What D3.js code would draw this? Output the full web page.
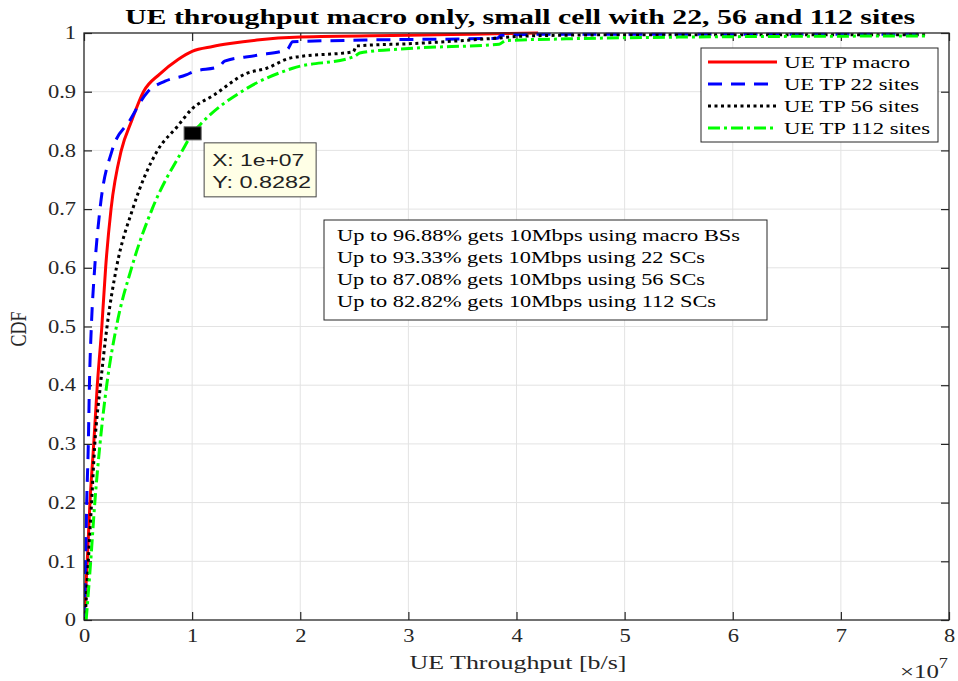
<!DOCTYPE html>
<html>
<head>
<meta charset="utf-8">
<script src="https://cdn.jsdelivr.net/npm/d3@7"></script>
<style>
  html, body { margin: 0; padding: 0; background: #fff; }
  svg { display: block; }
</style>
</head>
<body>
<div id="chart"></div>
<script>
// x values are in units of 1e7 b/s, y values are CDF
const tpMacro = [[0,0],[0.01,0.03],[0.03,0.1],[0.055,0.2],[0.09,0.3],[0.123,0.4],[0.165,0.5],
  [0.2,0.6],[0.25,0.7],[0.345,0.8],[0.44,0.85],[0.55,0.9],[0.7,0.93],[0.87,0.955],[1.0,0.9688],
  [1.19,0.977],[1.35,0.982],[1.6,0.988],[2.0,0.993],[3.0,0.996],[3.6,0.998],[4.2,1.0]];
const tp22 = [[0,0],[0.015,0.1],[0.025,0.2],[0.04,0.3],[0.05,0.4],[0.068,0.5],[0.099,0.6],
  [0.148,0.7],[0.26,0.8],[0.42,0.85],[0.59,0.9],[0.75,0.918],[0.95,0.929],[1.0,0.9333],
  [1.25,0.943],[1.3,0.952],[1.6,0.962],[1.88,0.972],[1.93,0.985],[2.6,0.988],[3.82,0.991],
  [3.86,0.996],[4.3,0.998],[7.8,0.998]];
const tp56 = [[0.01,0],[0.04,0.1],[0.07,0.2],[0.1,0.3],[0.152,0.4],[0.213,0.5],[0.3,0.6],
  [0.45,0.7],[0.68,0.8],[0.86,0.84],[1.0,0.8708],[1.2,0.894],[1.5,0.931],[1.69,0.94],
  [1.9,0.957],[2.0,0.96],[2.49,0.968],[2.52,0.978],[3.04,0.982],[3.8,0.991],[4.1,0.995],
  [5.0,0.997],[7.8,0.997]];
const tp112 = [[0.02,0],[0.062,0.1],[0.1,0.2],[0.148,0.3],[0.21,0.4],[0.3,0.5],[0.44,0.6],
  [0.63,0.7],[0.91,0.8],[1.0,0.8282],[1.07,0.843],[1.5,0.905],[1.93,0.94],[2.5,0.96],
  [2.55,0.966],[3.04,0.974],[3.84,0.981],[3.9,0.987],[4.46,0.99],[5.5,0.993],[7.8,0.995]];

const seriesNames = ['UE TP macro', 'UE TP 22 sites', 'UE TP 56 sites', 'UE TP 112 sites'];
const xTicks = [0, 1, 2, 3, 4, 5, 6, 7, 8];
const yTicks = [0, 0.1, 0.2, 0.3, 0.4, 0.5, 0.6, 0.7, 0.8, 0.9, 1];
const tipPoint = [1.0, 0.8282];
const notes = [
  'Up to 96.88% gets 10Mbps using macro BSs',
  'Up to 93.33% gets 10Mbps using 22 SCs',
  'Up to 87.08% gets 10Mbps using 56 SCs',
  'Up to 82.82% gets 10Mbps using 112 SCs'
];

const W = 958, H = 681;
const pLeft = 84, pRight = 949, pTop = 33, pBottom = 620;
const serif = "'Liberation Serif', 'DejaVu Serif', serif";
const sans = "'Liberation Sans', Arial, sans-serif";
const axisColor = '#262626';
const stretch = 1.25; // the reference figure is a bit wider than tall

const svg = d3.select('#chart').append('svg')
  .attr('width', W).attr('height', H)
  .attr('viewBox', [0, 0, W, H]);

const x = d3.scaleLinear().domain([0, 8]).range([pLeft, pRight]);
const y = d3.scaleLinear().domain([0, 1]).range([pBottom, pTop]);

// widen a text element horizontally
function widen(sel, k) {
  sel.each(function () {
    const len = this.getComputedTextLength();
    d3.select(this).attr('textLength', len * k).attr('lengthAdjust', 'spacingAndGlyphs');
  });
}

// grid
svg.append('g').selectAll('line').data(xTicks.slice(1, -1)).join('line')
  .attr('x1', d => x(d)).attr('x2', d => x(d))
  .attr('y1', pTop).attr('y2', pBottom)
  .attr('stroke', '#e3e3e3').attr('stroke-width', 1);
svg.append('g').selectAll('line').data(yTicks.slice(1, -1)).join('line')
  .attr('x1', pLeft).attr('x2', pRight)
  .attr('y1', d => y(d)).attr('y2', d => y(d))
  .attr('stroke', '#e3e3e3').attr('stroke-width', 1);

// axes (ticks inside, on all four sides)
const tickLen = 8;
const styleAxis = g => {
  g.select('.domain').remove();
  g.selectAll('.tick line').attr('stroke', axisColor).attr('stroke-width', 1.2);
  g.selectAll('.tick text').attr('fill', axisColor)
    .style('font-family', serif).style('font-size', '18px')
    .call(widen, stretch);
};
svg.append('g').attr('transform', `translate(0,${pBottom})`)
  .call(d3.axisBottom(x).tickValues(xTicks).tickFormat(d3.format('d'))
    .tickSizeInner(-tickLen).tickSizeOuter(0).tickPadding(9))
  .call(styleAxis);
svg.append('g').attr('transform', `translate(${pLeft},0)`)
  .call(d3.axisLeft(y).tickValues(yTicks).tickFormat(d => d === 0 || d === 1 ? d : d3.format('.1f')(d))
    .tickSizeInner(-tickLen).tickSizeOuter(0).tickPadding(8))
  .call(styleAxis);
svg.append('g').attr('transform', `translate(0,${pTop})`)
  .call(d3.axisTop(x).tickValues(xTicks).tickFormat('').tickSizeInner(-tickLen).tickSizeOuter(0))
  .call(styleAxis);
svg.append('g').attr('transform', `translate(${pRight},0)`)
  .call(d3.axisRight(y).tickValues(yTicks).tickFormat('').tickSizeInner(-tickLen).tickSizeOuter(0))
  .call(styleAxis);

// curves
svg.append('clipPath').attr('id', 'plotclip').append('rect')
  .attr('x', pLeft).attr('y', pTop - 3).attr('width', pRight - pLeft).attr('height', pBottom - pTop + 3);

const styles = [
  { data: tpMacro, color: '#ff0000', dash: null },
  { data: tp22, color: '#0000ff', dash: '14,9' },
  { data: tp56, color: '#000000', dash: '3,3.5' },
  { data: tp112, color: '#00ff00', dash: '12,4,3,4' }
];
const line = d3.line().curve(d3.curveMonotoneX).x(d => x(d[0])).y(d => y(d[1]));
const curves = svg.append('g').attr('clip-path', 'url(#plotclip)');
styles.forEach(s => {
  curves.append('path')
    .attr('d', line(s.data))
    .attr('fill', 'none')
    .attr('stroke', s.color)
    .attr('stroke-width', 3)
    .attr('stroke-dasharray', s.dash);
});

// axis box
svg.append('rect')
  .attr('x', pLeft).attr('y', pTop).attr('width', pRight - pLeft).attr('height', pBottom - pTop)
  .attr('fill', 'none').attr('stroke', axisColor).attr('stroke-width', 1.3);

// title and labels
svg.append('text')
  .attr('x', 520).attr('y', 24)
  .attr('text-anchor', 'middle')
  .attr('textLength', 790).attr('lengthAdjust', 'spacingAndGlyphs')
  .style('font-family', serif).style('font-size', '21px').style('font-weight', 'bold')
  .attr('fill', '#000')
  .text('UE throughput macro only, small cell with 22, 56 and 112 sites');

svg.append('text')
  .attr('x', 518).attr('y', 669)
  .attr('text-anchor', 'middle')
  .attr('textLength', 217).attr('lengthAdjust', 'spacingAndGlyphs')
  .style('font-family', serif).style('font-size', '19px')
  .attr('fill', axisColor)
  .text('UE Throughput [b/s]');

svg.append('text')
  .attr('transform', 'translate(26,329) rotate(-90) scale(1,1.25)')
  .attr('text-anchor', 'middle')
  .style('font-family', serif).style('font-size', '18px')
  .attr('fill', axisColor)
  .text('CDF');

const expo = svg.append('text')
  .attr('x', 900).attr('y', 678)
  .attr('textLength', 48).attr('lengthAdjust', 'spacingAndGlyphs')
  .style('font-family', serif).style('font-size', '19px')
  .attr('fill', axisColor);
expo.append('tspan').text('×10');
expo.append('tspan').attr('dy', -10).style('font-size', '14px').text('7');

// legend
const lg = svg.append('g');
lg.append('rect')
  .attr('x', 701).attr('y', 48).attr('width', 237).attr('height', 94)
  .attr('fill', '#fff').attr('stroke', axisColor).attr('stroke-width', 1);
const legendWidths = [126, 135, 135, 146];
styles.forEach((s, i) => {
  const ly = 62 + i * 22;
  lg.append('line')
    .attr('x1', 708).attr('x2', 777).attr('y1', ly).attr('y2', ly)
    .attr('stroke', s.color).attr('stroke-width', 3)
    .attr('stroke-dasharray', s.dash);
  lg.append('text')
    .attr('x', 784).attr('y', ly + 6)
    .attr('textLength', legendWidths[i]).attr('lengthAdjust', 'spacingAndGlyphs')
    .style('font-family', serif).style('font-size', '17px')
    .attr('fill', '#000')
    .text(seriesNames[i]);
});

// annotation box
const nb = svg.append('g');
nb.append('rect')
  .attr('x', 324).attr('y', 220).attr('width', 443).attr('height', 100)
  .attr('fill', '#fff').attr('stroke', axisColor).attr('stroke-width', 1);
const noteWidths = [403, 368, 368, 379];
notes.forEach((t, i) => {
  nb.append('text')
    .attr('x', 337).attr('y', 241 + i * 22)
    .attr('textLength', noteWidths[i]).attr('lengthAdjust', 'spacingAndGlyphs')
    .style('font-family', serif).style('font-size', '17px')
    .attr('fill', '#000')
    .text(t);
});

// data tip
const tx = x(tipPoint[0]), ty = y(tipPoint[1]);
svg.append('rect')
  .attr('x', tx - 8).attr('y', ty - 7).attr('width', 17).attr('height', 13)
  .attr('fill', '#000').attr('stroke', '#555').attr('stroke-width', 1);
const tip = svg.append('g').attr('transform', `translate(${tx + 12},${ty + 9})`);
tip.append('rect')
  .attr('width', 112).attr('height', 54)
  .attr('fill', '#ffffe6').attr('stroke', '#444').attr('stroke-width', 1);
tip.append('text').attr('x', 8).attr('y', 23)
  .attr('textLength', 92).attr('lengthAdjust', 'spacingAndGlyphs')
  .style('font-family', sans).style('font-size', '17px').attr('fill', '#222')
  .text('X: ' + d3.format('.0e')(tipPoint[0] * 1e7).replace('e+7', 'e+07'));
tip.append('text').attr('x', 8).attr('y', 45)
  .attr('textLength', 99).attr('lengthAdjust', 'spacingAndGlyphs')
  .style('font-family', sans).style('font-size', '17px').attr('fill', '#222')
  .text('Y: ' + tipPoint[1]);
</script>
</body>
</html>
